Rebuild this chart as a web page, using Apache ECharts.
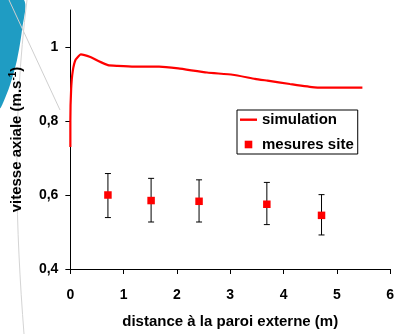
<!DOCTYPE html>
<html>
<head>
<meta charset="utf-8">
<script src="https://cdn.jsdelivr.net/npm/echarts@6/dist/echarts.min.js"></script>
<style>
  html, body { margin: 0; padding: 0; background: #fff; }
  #chart { width: 397px; height: 334px; }
</style>
</head>
<body>
<div id="chart"></div>
<script>
// simulation curve (distance m, vitesse m/s)
const simX = [0, 0, 0.015, 0.045, 0.1, 0.195, 0.375, 0.525, 0.705, 0.886, 1.2, 1.665, 2.025, 2.565, 3.045, 3.465, 3.7, 4.12, 4.58, 5.0, 5.48]
const simY = [0.73, 0.80, 0.887, 0.935, 0.966, 0.98, 0.973, 0.962, 0.951, 0.949, 0.947, 0.947, 0.942, 0.931, 0.925, 0.914, 0.909, 0.900, 0.891, 0.890, 0.890]

// mesures site with error bars
const mesX = [0.705, 1.515, 2.415, 3.687, 4.713]
const mesY = [0.600, 0.585, 0.583, 0.575, 0.545]
const mesLow = [0.539, 0.527, 0.527, 0.520, 0.492]
const mesHigh = [0.658, 0.645, 0.641, 0.634, 0.601]

const yTicks = [0.4, 0.6, 0.8, 1]

const font = "'Liberation Sans', Arial, sans-serif"
const chart = echarts.init(document.getElementById("chart"))

const option = {
  animation: false,
  backgroundColor: "#fff",
  graphic: [
    // decorative slide background on the left
    {
      type: "polygon",
      z: -10,
      shape: {
        points: [[0, 0], [24, 0], [22, 30], [17, 60], [10, 85], [3, 103], [0, 108]],
        smooth: 0.3
      },
      style: { fill: "#1f9cc3" }
    },
    {
      type: "line",
      z: -9,
      shape: { x1: 9, y1: 0, x2: 60, y2: 110 },
      style: { stroke: "#cfcfcf", lineWidth: 1 }
    },
    {
      type: "bezierCurve",
      z: -9,
      shape: { x1: 27, y1: 0, cpx1: 12, cpy1: 120, cpx2: 16, cpy2: 230, x2: 24, y2: 334 },
      style: { stroke: "#d4d4d4", lineWidth: 1, fill: null }
    }
  ],
  grid: {
    left: 58,
    right: 6,
    top: 10,
    bottom: 61
  },
  legend: {
    orient: "vertical",
    left: 237,
    top: 110,
    backgroundColor: "#fff",
    borderColor: "#000",
    borderWidth: 1,
    borderRadius: 0,
    padding: [2, 4, 2, 3],
    itemGap: 10,
    itemWidth: 17,
    itemHeight: 14,
    textStyle: { fontFamily: font, fontSize: 15, fontWeight: "bold", color: "#000" },
    data: [
      { name: "simulation", icon: "path://M0,0M17,14M0,6h17v2.4h-17z", itemStyle: { color: "#ff0000" } },
      { name: "mesures site", icon: "path://M0,0M14,14M3.2,3.2h7.6v7.6h-7.6z", itemStyle: { color: "#ff0000" } }
    ]
  },
  xAxis: {
    type: "value",
    min: 0,
    max: 6,
    interval: 1,
    name: "distance à la paroi externe (m)",
    nameLocation: "middle",
    nameGap: 45,
    nameTextStyle: { fontFamily: font, fontSize: 15, fontWeight: "bold", color: "#000" },
    axisLine: { onZero: false, lineStyle: { color: "#000", width: 1 } },
    axisTick: { show: true, inside: false, length: 5, lineStyle: { color: "#000" } },
    axisLabel: { fontFamily: font, fontSize: 14, fontWeight: "bold", color: "#000", margin: 19 },
    splitLine: { show: false }
  },
  yAxis: {
    type: "value",
    min: 0.4,
    max: 1.1,
    interval: 0.2,
    name: "{a|vitesse axiale (m.s}{s|-1}{a|)}",
    nameLocation: "middle",
    nameGap: 35,
    nameTextStyle: {
      rich: {
        a: { fontFamily: font, fontSize: 15, fontWeight: "bold", color: "#000", lineHeight: 17 },
        s: { fontFamily: font, fontSize: 10, fontWeight: "bold", color: "#000", verticalAlign: "top", lineHeight: 10, padding: [0, 0, 10, 0] }
      }
    },
    axisLine: { show: true, lineStyle: { color: "#000", width: 1 } },
    axisTick: { show: true, inside: false, length: 5, customValues: yTicks, lineStyle: { color: "#000" } },
    axisLabel: {
      customValues: yTicks,
      fontFamily: font,
      fontSize: 14,
      fontWeight: "bold",
      color: "#000",
      margin: 12,
      formatter: (v) => String(Math.round(v * 10) / 10).replace(".", ",")
    },
    splitLine: { show: false }
  },
  series: [
    {
      name: "simulation",
      type: "line",
      symbol: "none",
      smooth: 0.15,
      data: simX.map((x, i) => [x, simY[i]]),
      lineStyle: { color: "#ff0000", width: 2.2 },
      itemStyle: { color: "#ff0000" },
      z: 3
    },
    {
      name: "erreur",
      type: "custom",
      data: mesX.map((x, i) => [x, mesLow[i], mesHigh[i]]),
      renderItem: (params, api) => {
        const lo = api.coord([api.value(0), api.value(1)])
        const hi = api.coord([api.value(0), api.value(2)])
        const w = 3
        const st = { stroke: "#000", lineWidth: 1 }
        return {
          type: "group",
          children: [
            { type: "line", shape: { x1: lo[0], y1: lo[1], x2: hi[0], y2: hi[1] }, style: st },
            { type: "line", shape: { x1: lo[0] - w, y1: lo[1], x2: lo[0] + w, y2: lo[1] }, style: st },
            { type: "line", shape: { x1: hi[0] - w, y1: hi[1], x2: hi[0] + w, y2: hi[1] }, style: st }
          ]
        }
      },
      encode: { x: 0, y: [1, 2] },
      z: 2
    },
    {
      name: "mesures site",
      type: "scatter",
      symbol: "rect",
      symbolSize: 7.5,
      data: mesX.map((x, i) => [x, mesY[i]]),
      itemStyle: { color: "#ff0000", opacity: 1 },
      z: 4
    }
  ]
}

chart.setOption(option)
</script>
</body>
</html>
